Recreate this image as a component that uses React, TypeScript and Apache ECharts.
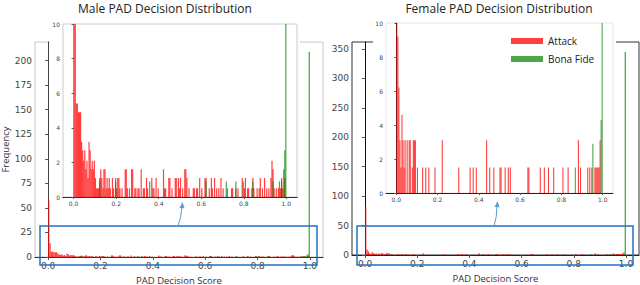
import React, { useEffect, useRef } from 'react';
import * as echarts from 'echarts';

const BIN_WIDTH = 0.005;
const xTicks = [0, 0.2, 0.4, 0.6, 0.8, 1.0];
const maleYTicks = [0, 25, 50, 75, 100, 125, 150, 175, 200];
const femaleYTicks = [0, 50, 100, 150, 200, 250, 300, 350];
const insetYTicks = [0, 2, 4, 6, 8, 10];

// [bin start, frequency]
const maleAttack: [number, number][] = [
  [0.000, 58], [0.005, 14], [0.010, 5.4], [0.015, 5.4], [0.020, 4.9], [0.025, 4.9], [0.030, 4.9], [0.035, 3.2],
  [0.040, 2.7], [0.045, 2.1], [0.050, 2.7], [0.055, 1.6], [0.060, 2.1], [0.065, 1.1], [0.070, 3.2], [0.075, 2.7],
  [0.080, 1.6], [0.085, 2.1], [0.090, 1.6], [0.095, 2.1], [0.100, 1.1], [0.105, 0.5], [0.110, 0.5], [0.115, 0.5],
  [0.120, 1.1], [0.125, 1.6], [0.130, 1.1], [0.135, 0.5], [0.140, 1.6], [0.145, 1.6], [0.150, 0.5], [0.155, 1.1],
  [0.160, 0.5], [0.165, 1.1], [0.170, 0.5], [0.180, 1.1], [0.185, 0.5], [0.195, 1.1], [0.200, 0.5], [0.205, 1.1],
  [0.210, 1.1], [0.215, 0.5], [0.225, 0.5], [0.240, 1.6], [0.245, 1.6], [0.250, 0.5], [0.260, 0.5], [0.270, 1.6],
  [0.275, 1.6], [0.285, 0.5], [0.290, 0.5], [0.300, 0.5], [0.305, 0.5], [0.315, 1.6], [0.325, 0.5], [0.330, 0.5],
  [0.340, 1.1], [0.345, 0.5], [0.365, 1.1], [0.370, 0.5], [0.375, 0.5], [0.385, 1.1], [0.395, 0.5], [0.420, 1.6],
  [0.425, 0.5], [0.430, 0.5], [0.445, 1.1], [0.450, 1.1], [0.460, 0.5], [0.475, 1.1], [0.480, 1.1], [0.490, 1.1],
  [0.495, 0.5], [0.500, 1.1], [0.510, 0.5], [0.520, 1.6], [0.525, 1.6], [0.530, 1.1], [0.540, 0.5], [0.560, 0.5],
  [0.565, 0.5], [0.575, 0.5], [0.580, 0.5], [0.590, 1.1], [0.600, 0.5], [0.615, 1.1], [0.620, 1.1], [0.635, 0.5],
  [0.645, 1.1], [0.650, 0.5], [0.660, 1.1], [0.670, 0.5], [0.680, 0.5], [0.690, 1.1], [0.700, 0.5], [0.720, 0.5],
  [0.740, 0.5], [0.745, 0.5], [0.760, 0.5], [0.770, 0.5], [0.790, 1.1], [0.800, 0.5], [0.805, 1.1], [0.815, 0.5],
  [0.820, 0.5], [0.835, 0.5], [0.840, 1.1], [0.845, 0.5], [0.860, 0.5], [0.870, 0.5], [0.875, 1.1], [0.885, 0.5],
  [0.895, 1.1], [0.905, 0.5], [0.915, 0.5], [0.925, 1.1], [0.930, 2.1], [0.935, 1.6], [0.940, 0.5], [0.950, 0.5],
  [0.960, 0.5], [0.970, 0.5], [0.975, 1.1], [0.980, 0.5], [0.990, 1.1],
];

const maleBonaFide: [number, number][] = [
  [0.120, 0.9], [0.195, 0.9], [0.355, 0.9], [0.620, 0.9], [0.715, 0.9], [0.760, 0.9], [0.795, 0.9],
  [0.840, 0.9], [0.935, 0.9], [0.965, 0.9], [0.975, 0.9], [0.985, 1.6], [0.990, 2.7], [0.995, 209],
];

const femaleAttack: [number, number][] = [
  [0.000, 82], [0.005, 9.2], [0.010, 6.2], [0.015, 3.1], [0.020, 1.5], [0.025, 4.6], [0.030, 3.1], [0.035, 1.5],
  [0.040, 3.1], [0.050, 3.1], [0.060, 3.1], [0.065, 3.1], [0.075, 1.5], [0.080, 3.1], [0.085, 3.1], [0.090, 3.1],
  [0.100, 1.5], [0.125, 1.5], [0.140, 1.5], [0.155, 1.5], [0.185, 1.5], [0.220, 3.1], [0.300, 1.5], [0.355, 1.5],
  [0.370, 1.5], [0.385, 1.5], [0.435, 3.1], [0.450, 1.5], [0.470, 1.5], [0.500, 1.5], [0.505, 1.5], [0.525, 1.5],
  [0.540, 1.5], [0.550, 1.5], [0.635, 1.5], [0.640, 1.5], [0.695, 1.5], [0.715, 1.5], [0.735, 1.5], [0.760, 1.5],
  [0.805, 1.5], [0.830, 1.5], [0.880, 3.1], [0.890, 1.5], [0.925, 1.5], [0.935, 1.5], [0.945, 1.5], [0.960, 1.5],
  [0.965, 1.5], [0.970, 1.5], [0.975, 1.5], [0.980, 1.5], [0.985, 3.1],
];

const femaleBonaFide: [number, number][] = [
  [0.865, 1.5], [0.950, 2.9], [0.990, 4.3], [0.995, 345],
];

const ATTACK_COLOR = 'rgba(255,0,0,0.75)';
const BONA_COLOR = 'rgba(0,128,0,0.7)';
const TICK_FONT = 'DejaVu Sans';
const TEXT_FONT = 'Open Sans';

const toCenters = (d: [number, number][]) =>
  d.map(([s, v]) => [Number((s + BIN_WIDTH / 2).toFixed(4)), v]);

export default function App() {
  const ref = useRef<HTMLDivElement>(null);

  useEffect(() => {
    const chart = echarts.init(ref.current as HTMLDivElement, null, { renderer: 'svg' });

    const mainX = (gridIndex: number, lineColor: string, nameGap: number) => ({
      type: 'value', gridIndex, min: -0.05, max: 1.05,
      axisLine: { show: true, lineStyle: { color: lineColor, width: 1 } },
      axisTick: { show: true, customValues: xTicks, length: 3, lineStyle: { color: '#555' } },
      axisLabel: {
        customValues: xTicks, formatter: (v: number) => v.toFixed(1),
        fontSize: 9, margin: 4, color: '#444', fontFamily: TICK_FONT,
      },
      splitLine: { show: false },
      name: 'PAD Decision Score', nameLocation: 'middle', nameGap,
      nameTextStyle: { fontSize: 9.5, color: '#333', fontFamily: TEXT_FONT, lineHeight: 11 },
    });
    const insetX = (gridIndex: number) => ({
      type: 'value', gridIndex, min: -0.05, max: 1.05, z: 7,
      axisLine: { show: true, lineStyle: { color: '#222', width: 1 } },
      axisTick: { show: true, customValues: xTicks, length: 2, lineStyle: { color: '#555' } },
      axisLabel: {
        customValues: xTicks, formatter: (v: number) => v.toFixed(1),
        fontSize: 6, margin: 3, color: '#444', fontFamily: TICK_FONT,
      },
      splitLine: { show: false },
    });
    const mainY = (gridIndex: number, max: number, ticks: number[], lineColor: string) => ({
      type: 'value', gridIndex, min: 0, max,
      axisLine: { show: true, lineStyle: { color: lineColor, width: 1 } },
      axisTick: { show: true, customValues: ticks, length: 3, lineStyle: { color: '#555' } },
      axisLabel: { customValues: ticks, fontSize: 9, margin: 3, color: '#444', fontFamily: TICK_FONT },
      splitLine: { show: false },
    });
    const insetY = (gridIndex: number, lineColor: string) => ({
      type: 'value', gridIndex, min: 0, max: 10, interval: 2, z: 7,
      axisLine: { show: true, lineStyle: { color: lineColor, width: 1 } },
      axisTick: { show: true, customValues: insetYTicks, length: 2, lineStyle: { color: '#555' } },
      axisLabel: { customValues: insetYTicks, fontSize: 6, margin: 3, color: '#444', fontFamily: TICK_FONT },
      splitLine: { show: false },
    });
    const topLine = (gridIndex: number, color: string, z: number) => ({
      type: 'value', gridIndex, position: 'top', min: -0.05, max: 1.05, z,
      axisLine: { show: true, lineStyle: { color, width: 1 } },
      axisTick: { show: false }, axisLabel: { show: false }, splitLine: { show: false },
    });

    const barSeries = (name: string, data: [number, number][], axis: number, color: string, width: number, z: number) => ({
      type: 'bar', name, xAxisIndex: axis, yAxisIndex: axis, data: toCenters(data),
      barWidth: width, barGap: '-100%', z, clip: true,
      itemStyle: { color },
    });

    const gridBase = { show: true, borderWidth: 1, backgroundColor: 'transparent', outerBoundsMode: 'none', containLabel: false };

    const option: any = {
      animation: false,
      backgroundColor: '#fff',
      title: [
        { text: 'Male PAD Decision Distribution', left: 165, top: 1, textAlign: 'center', padding: 0,
          textStyle: { fontSize: 12, fontWeight: 'normal', color: '#222', fontFamily: TEXT_FONT, lineHeight: 14 } },
        { text: 'Female PAD Decision Distribution', left: 499, top: 1, textAlign: 'center', padding: 0,
          textStyle: { fontSize: 12, fontWeight: 'normal', color: '#222', fontFamily: TEXT_FONT, lineHeight: 14 } },
      ],
      legend: {
        data: ['Attack', 'Bona Fide'], orient: 'vertical', left: 506, top: 31, z: 10,
        itemWidth: 32, itemHeight: 6, itemGap: 8, icon: 'rect', selectedMode: false,
        textStyle: { fontSize: 10, color: '#222', fontFamily: TEXT_FONT },
      },
      grid: [
        { ...gridBase, left: 35, top: 42, width: 288, height: 215, borderColor: '#c8c8c8' },
        { ...gridBase, left: 352, top: 42, width: 287, height: 213, borderColor: '#333' },
        { ...gridBase, left: 63, top: 24, width: 234, height: 173, z: 6, borderColor: '#cccccc' },
        { ...gridBase, left: 386, top: 23, width: 227, height: 170, z: 6, borderColor: '#e6e6e6' },
      ],
      xAxis: [
        mainX(0, '#999', 15.5),
        mainX(1, '#222', 17.5),
        insetX(2),
        insetX(3),
        topLine(0, '#333', 0),
        topLine(2, '#333', 7),
      ],
      yAxis: [
        { ...mainY(0, 219, maleYTicks, '#444'), name: 'Frequency', nameLocation: 'middle', nameGap: 23, nameRotate: 90,
          nameTextStyle: { fontSize: 9.5, color: '#333', fontFamily: TEXT_FONT, lineHeight: 11 } },
        mainY(1, 362, femaleYTicks, '#111'),
        insetY(2, '#bbbbbb'),
        insetY(3, '#222'),
        { type: 'value', gridIndex: 0, show: false, min: 0, max: 219 },
        { type: 'value', gridIndex: 2, show: false, min: 0, max: 10 },
      ],
      series: [
        barSeries('Attack', maleAttack, 0, ATTACK_COLOR, 1.3, 2),
        barSeries('Bona Fide', maleBonaFide, 0, BONA_COLOR, 1.3, 2),
        barSeries('Attack', femaleAttack, 1, ATTACK_COLOR, 1.3, 2),
        barSeries('Bona Fide', femaleBonaFide, 1, BONA_COLOR, 1.3, 2),
        barSeries('Attack', maleAttack, 2, ATTACK_COLOR, 1.2, 8),
        barSeries('Bona Fide', maleBonaFide, 2, BONA_COLOR, 1.2, 8),
        barSeries('Attack', femaleAttack, 3, ATTACK_COLOR, 1.1, 8),
        barSeries('Bona Fide', femaleBonaFide, 3, BONA_COLOR, 1.1, 8),
      ],
      graphic: [
        { type: 'rect', z: 5, silent: true, shape: { x: 50, y: 18, width: 250, height: 190 }, style: { fill: '#fff' } },
        { type: 'rect', z: 5, silent: true, shape: { x: 373, y: 18, width: 243, height: 188 }, style: { fill: '#fff' } },
        { type: 'rect', z: 20, silent: true, shape: { x: 40, y: 226, width: 277, height: 39 }, style: { fill: 'none', stroke: '#1f72c4', lineWidth: 1.5 } },
        { type: 'rect', z: 20, silent: true, shape: { x: 357, y: 226, width: 276, height: 39 }, style: { fill: 'none', stroke: '#1f72c4', lineWidth: 1.5 } },
        { type: 'bezierCurve', z: 20, silent: true, shape: { x1: 178, y1: 226, x2: 182, y2: 207, cpx1: 181, cpy1: 218 }, style: { fill: 'none', stroke: '#5b9bd5', lineWidth: 1 } },
        { type: 'polygon', z: 20, silent: true, shape: { points: [[182.5, 202], [179.5, 208], [184.5, 208.3]] }, style: { fill: '#5b9bd5' } },
        { type: 'bezierCurve', z: 20, silent: true, shape: { x1: 494, y1: 226, x2: 497, y2: 206, cpx1: 497, cpy1: 217 }, style: { fill: 'none', stroke: '#5b9bd5', lineWidth: 1 } },
        { type: 'polygon', z: 20, silent: true, shape: { points: [[497.5, 201], [494.5, 207], [499.5, 207.3]] }, style: { fill: '#5b9bd5' } },
      ],
    };

    chart.setOption(option);
    return () => chart.dispose();
  }, []);

  return (
    <div
      ref={ref}
      style={{ position: 'fixed', left: 0, top: 0, width: 640, height: 285, background: '#fff' }}
    />
  );
}
